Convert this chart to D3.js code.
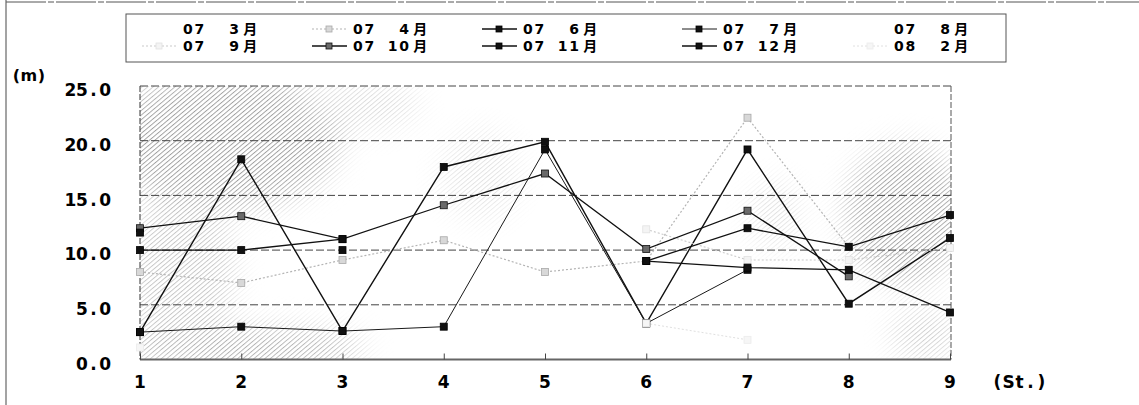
<!DOCTYPE html>
<html>
<head>
<meta charset="utf-8">
<script src="https://cdn.jsdelivr.net/npm/d3@7"></script>
<style>
  html, body { margin: 0; padding: 0; background: #fff; }
  svg { display: block; }
  text { font-family: "DejaVu Sans", "Noto Sans CJK JP", sans-serif; font-weight: bold; fill: #000; }
</style>
</head>
<body>
<svg id="chart" width="1139" height="405"></svg>
<script>
// Stations along the survey line
const stations = [1, 2, 3, 4, 5, 6, 7, 8, 9];
const yTicks = [0, 5, 10, 15, 20, 25];

// Transparency (m) per survey month; null = no observation
const m0703 = [null, null, null, null, null, null, null, null, null];
const m0704 = [8.0, 7.0, 9.1, 10.9, 8.0, 9.0, 22.1, 10.3, null];
const m0706 = [2.5, 18.3, 2.6, 17.6, 19.9, 3.3, 19.2, 5.1, 11.1];
const m0707 = [2.5, 3.0, 2.6, 3.0, 19.2, 3.3, 8.2, null, null];
const m0708 = [null, null, null, null, null, null, null, null, null];
const m0709 = [null, null, null, null, null, 11.9, 9.1, 9.1, 10.2];
const m0710 = [12.0, 13.1, 11.0, 14.1, 17.0, 10.1, 13.6, 7.6, null];
const m0711 = [10.0, 10.0, 11.0, null, null, 9.0, 12.0, 10.3, 13.2];
const m0712 = [11.6, null, 10.0, null, null, 9.0, 8.4, 8.2, 4.3];
const m0802 = [1.1, null, null, null, null, 3.3, 1.8, null, null];

const monthLabels = ["07  3月", "07  4月", "07  6月", "07  7月", "07  8月",
                     "07  9月", "07 10月", "07 11月", "07 12月", "08  2月"];

// Drawing style for each month
const styles = [
  { line: "none",    width: 0,   dash: null,  marker: null },
  { line: "#b4b4b4", width: 1.2, dash: "2,2", marker: { fill: "#d8d8d8", stroke: "#a8a8a8" } },
  { line: "#111",    width: 1.4, dash: null,  marker: { fill: "#111", stroke: "#000" } },
  { line: "#1a1a1a", width: 1.0, dash: null,  marker: { fill: "#111", stroke: "#000" } },
  { line: "none",    width: 0,   dash: null,  marker: null },
  { line: "#cacaca", width: 1.1, dash: "2,2", marker: { fill: "#f4f4f4", stroke: "#e2e2e2" } },
  { line: "#111",    width: 1.3, dash: null,  marker: { fill: "#6a6a6a", stroke: "#111" } },
  { line: "#111",    width: 1.3, dash: null,  marker: { fill: "#111", stroke: "#000" } },
  { line: "#111",    width: 1.3, dash: null,  marker: { fill: "#111", stroke: "#000" } },
  { line: "#e0e0e0", width: 1.0, dash: "2,2", marker: { fill: "#f6f6f6", stroke: "#ececec" } }
];

const seriesValues = [m0703, m0704, m0706, m0707, m0708, m0709, m0710, m0711, m0712, m0802];
const series = monthLabels.map((name, i) => ({ name, values: seriesValues[i], style: styles[i] }));

const svg = d3.select("#chart");

// Plot frame
const plot = { left: 140, right: 951, top: 86, bottom: 359.5 };
const x = d3.scalePoint().domain(stations).range([140, 950]);
const y = d3.scaleLinear().domain([0, 25]).range([plot.bottom, plot.top]);

// Fixed-pitch text: every half-width character sits in its own cell
function cellText(g, str, x0, yc, pitch, anchor, size) {
  const chars = Array.from(str);
  const widths = chars.map(c => (c.charCodeAt(0) > 255 ? pitch * 1.75 : pitch));
  const total = d3.sum(widths);
  let start = anchor === "end" ? x0 - total : anchor === "middle" ? x0 - total / 2 : x0;
  const t = g.append("text").attr("font-size", size);
  chars.forEach((c, i) => {
    if (c !== " ") {
      t.append("tspan")
        .attr("x", start + widths[i] / 2)
        .attr("y", yc)
        .attr("dy", "0.36em")
        .attr("text-anchor", "middle")
        .text(c);
    }
    start += widths[i];
  });
  return t;
}

// Outer frame of the figure
svg.append("line").attr("x1", 6).attr("x2", 1139).attr("y1", 2).attr("y2", 2)
  .attr("stroke", "#555").attr("stroke-width", 1).attr("stroke-dasharray", "40,2,6,2");
svg.append("line").attr("x1", 6).attr("x2", 6).attr("y1", 0).attr("y2", 405)
  .attr("stroke", "#666").attr("stroke-width", 1.2);

// Shaded plot background (halftone hatch, patchy)
const defs = svg.append("defs");
const pat = defs.append("pattern").attr("id", "hatch").attr("patternUnits", "userSpaceOnUse")
  .attr("width", 3.5).attr("height", 3.5).attr("patternTransform", "rotate(-40)");
pat.append("line").attr("x1", 0).attr("x2", 3.5).attr("y1", 0.5).attr("y2", 0.5)
  .attr("stroke", "#999").attr("stroke-width", 0.9);
defs.append("filter").attr("id", "soft").attr("filterUnits", "userSpaceOnUse")
  .attr("x", 0).attr("y", 0).attr("width", 1139).attr("height", 405)
  .append("feGaussianBlur").attr("stdDeviation", 14);
defs.append("clipPath").attr("id", "plotClip").append("rect")
  .attr("x", plot.left).attr("y", plot.top)
  .attr("width", plot.right - plot.left).attr("height", plot.bottom - plot.top);
const mask = defs.append("mask").attr("id", "shadeMask")
  .attr("maskUnits", "userSpaceOnUse").attr("x", 0).attr("y", 0).attr("width", 1139).attr("height", 405);
mask.append("rect").attr("x", 0).attr("y", 0).attr("width", 1139).attr("height", 405).attr("fill", "#000");
const blobs = [
  { cx: 225, cy: 140, rx: 115, ry: 70, o: 1.0 },
  { cx: 240, cy: 348, rx: 125, ry: 20, o: 0.95 },
  { cx: 180, cy: 270, rx: 55, ry: 75, o: 0.6 },
  { cx: 360, cy: 105, rx: 60, ry: 25, o: 0.4 },
  { cx: 480, cy: 175, rx: 40, ry: 45, o: 0.3 },
  { cx: 905, cy: 215, rx: 60, ry: 70, o: 0.95 },
  { cx: 925, cy: 335, rx: 35, ry: 25, o: 0.55 },
  { cx: 775, cy: 215, rx: 25, ry: 35, o: 0.35 }
];
mask.append("g").attr("filter", "url(#soft)")
  .selectAll("ellipse").data(blobs).join("ellipse")
  .attr("cx", d => d.cx).attr("cy", d => d.cy).attr("rx", d => d.rx).attr("ry", d => d.ry)
  .attr("fill", d => d3.rgb(255 * d.o, 255 * d.o, 255 * d.o));
svg.append("g").attr("clip-path", "url(#plotClip)")
  .append("rect").attr("x", plot.left).attr("y", plot.top)
  .attr("width", plot.right - plot.left).attr("height", plot.bottom - plot.top)
  .attr("fill", "url(#hatch)").attr("mask", "url(#shadeMask)");

// Horizontal gridlines (including top border)
svg.append("g").selectAll("line").data(yTicks.filter(v => v > 0)).join("line")
  .attr("x1", plot.left).attr("x2", plot.right)
  .attr("y1", d => y(d)).attr("y2", d => y(d))
  .attr("stroke", "#444").attr("stroke-width", 1).attr("stroke-dasharray", "8,3");

// Left and right borders
svg.append("line").attr("x1", plot.left).attr("x2", plot.left).attr("y1", plot.top).attr("y2", plot.bottom)
  .attr("stroke", "#333").attr("stroke-width", 1).attr("stroke-dasharray", "6,2");
svg.append("line").attr("x1", plot.right).attr("x2", plot.right).attr("y1", plot.top).attr("y2", plot.bottom)
  .attr("stroke", "#555").attr("stroke-width", 1).attr("stroke-dasharray", "6,2");

// Bottom axis with inward ticks
const xAxis = d3.axisBottom(x).tickSize(-6).tickFormat("");
const gx = svg.append("g").attr("transform", `translate(0,${plot.bottom})`).call(xAxis);
gx.select(".domain").attr("stroke", "#666").attr("stroke-width", 2)
  .attr("d", `M${plot.left},0H${plot.right}`);
gx.selectAll(".tick line").attr("stroke", "#444");

// Tick labels
const labels = svg.append("g");
yTicks.forEach(v => cellText(labels, v.toFixed(1), 111, y(v) + 4, 11.6, "end", 17));
stations.forEach(s => cellText(labels, String(s), x(s), 382, 11.6, "middle", 17));
cellText(labels, "(m)", 10, 75, 12.6, "start", 16);
cellText(labels, "(St.)", 992, 382, 11, "start", 17);

// Series lines and markers
const line = d3.line().defined(d => d.v != null).x(d => x(d.s)).y(d => y(d.v));
const gSeries = svg.append("g");
series.forEach(se => {
  const pts = stations.map((s, i) => ({ s, v: se.values[i] }));
  if (se.style.line !== "none") {
    gSeries.append("path").datum(pts).attr("d", line)
      .attr("fill", "none").attr("stroke", se.style.line)
      .attr("stroke-width", se.style.width)
      .attr("stroke-dasharray", se.style.dash);
  }
});
series.forEach(se => {
  if (!se.style.marker) return;
  const pts = stations.map((s, i) => ({ s, v: se.values[i] })).filter(d => d.v != null);
  gSeries.append("g").selectAll("rect").data(pts).join("rect")
    .attr("x", d => x(d.s) - 3.5).attr("y", d => y(d.v) - 3.5)
    .attr("width", 7).attr("height", 7)
    .attr("fill", se.style.marker.fill).attr("stroke", se.style.marker.stroke).attr("stroke-width", 0.8);
});

// Legend
const legend = svg.append("g");
legend.append("rect").attr("x", 126).attr("y", 14).attr("width", 880).attr("height", 48)
  .attr("fill", "none").attr("stroke", "#555").attr("stroke-width", 1);
const colX = [182, 352, 522, 722, 893];
const rowY = [29, 46];
series.forEach((se, i) => {
  const col = i % 5, row = Math.floor(i / 5);
  const tx = colX[col], ty = rowY[row];
  if (se.style.line !== "none") {
    legend.append("line").attr("x1", tx - 40).attr("x2", tx - 5).attr("y1", ty).attr("y2", ty)
      .attr("stroke", se.style.line).attr("stroke-width", se.style.width)
      .attr("stroke-dasharray", se.style.dash);
  }
  if (se.style.marker) {
    legend.append("rect").attr("x", tx - 26).attr("y", ty - 3).attr("width", 6).attr("height", 6)
      .attr("fill", se.style.marker.fill).attr("stroke", se.style.marker.stroke).attr("stroke-width", 0.8);
  }
  cellText(legend, se.name, tx, ty, 11.6, "start", 14);
});
</script>
</body>
</html>
